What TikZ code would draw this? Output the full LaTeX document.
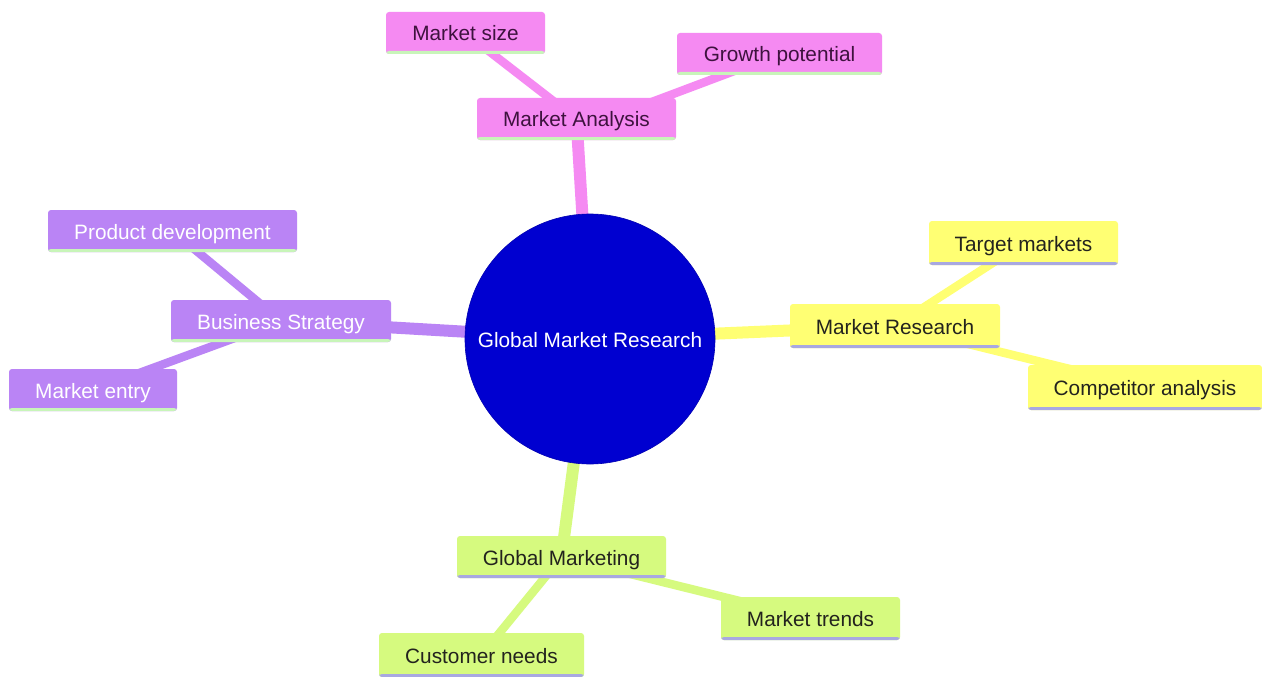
\documentclass[tikz,border=0pt]{standalone}
\usepackage{fontspec}
\setmainfont{Liberation Sans}
\usetikzlibrary{backgrounds}
\definecolor{pinkf}{RGB}{245,138,242}
\definecolor{pinkt}{RGB}{62,18,62}
\definecolor{purf}{RGB}{186,132,245}
\definecolor{yelf}{RGB}{255,255,115}
\definecolor{grnf}{RGB}{214,250,127}
\definecolor{grnb}{RGB}{200,245,185}
\definecolor{lavb}{RGB}{168,168,225}
\definecolor{ctrf}{RGB}{0,0,208}
\definecolor{darkt}{RGB}{35,35,30}
\begin{document}
\begin{tikzpicture}[x=1pt,y=-1pt,
  every node/.style={font=\fontsize{20.8}{25}\selectfont, inner sep=0pt, text height=17pt, text depth=1pt},
  box/.style={rounded corners=3pt, minimum height=42pt},
  bline/.style={path picture={\fill[#1] ([yshift=3pt]path picture bounding box.south west) rectangle (path picture bounding box.south east);}},
  pinkbox/.style={box, fill=pinkf, text=pinkt, bline=grnb},
  purbox/.style={box, fill=purf, text=white, bline=grnb},
  yelbox/.style={box, fill=yelf, text=darkt, bline=lavb},
  grnbox/.style={box, fill=grnf, text=darkt, bline=lavb},
  main/.style={line width=12pt},
  leaf/.style={line width=8.5pt}
]
\useasboundingbox (0,0) rectangle (1262,677);

\node[circle, fill=ctrf, draw=ctrf!85!black, line width=0.6pt, minimum size=250pt, text=white] (c) at (590,339) {Global Market Research};

\node[pinkbox, minimum width=199pt] (ma) at (576.5,119) {Market Analysis};
\node[pinkbox, minimum width=159pt] (ms) at (465.5,33) {Market size};
\node[pinkbox, minimum width=205pt] (gp) at (779.5,54) {Growth potential};

\node[purbox, minimum width=220pt] (bs) at (281,321) {Business Strategy};
\node[purbox, minimum width=249pt] (pd) at (172.5,231) {Product development};
\node[purbox, minimum width=168pt] (me) at (93,390) {Market entry};

\node[yelbox, minimum width=210pt, minimum height=44pt] (mr) at (895,326) {Market Research};
\node[yelbox, minimum width=189pt, minimum height=44pt] (tm) at (1023.5,243) {Target markets};
\node[yelbox, minimum width=234pt, minimum height=45pt] (ca) at (1145,387.5) {Competitor analysis};

\node[grnbox, minimum width=209pt] (gm) at (561.5,557) {Global Marketing};
\node[grnbox, minimum width=179pt, minimum height=43pt] (mt) at (810.5,618.5) {Market trends};
\node[grnbox, minimum width=205pt, minimum height=44pt] (cn) at (481.5,655) {Customer needs};

\begin{scope}[on background layer]
\fill[white] (0,0) rectangle (1262,677);
\draw[main, pinkf] (c.center) -- (ma.center);
\draw[leaf, pinkf] (ma.center) -- (ms.center);
\draw[leaf, pinkf] ([xshift=30pt]ma.center) -- (gp.center);
\draw[main, purf] (c.center) -- (bs.center);
\draw[leaf, purf] (bs.center) -- (pd.center);
\draw[leaf, purf] (bs.center) -- (me.center);
\draw[main, yelf] (c.center) -- (mr.center);
\draw[leaf, yelf] (mr.center) -- (tm.center);
\draw[leaf, yelf] (mr.center) -- (ca.center);
\draw[main, grnf] (c.center) -- (gm.center);
\draw[leaf, grnf] (gm.center) -- (mt.center);
\draw[leaf, grnf] (gm.center) -- (cn.center);
\end{scope}
\end{tikzpicture}
\end{document}
